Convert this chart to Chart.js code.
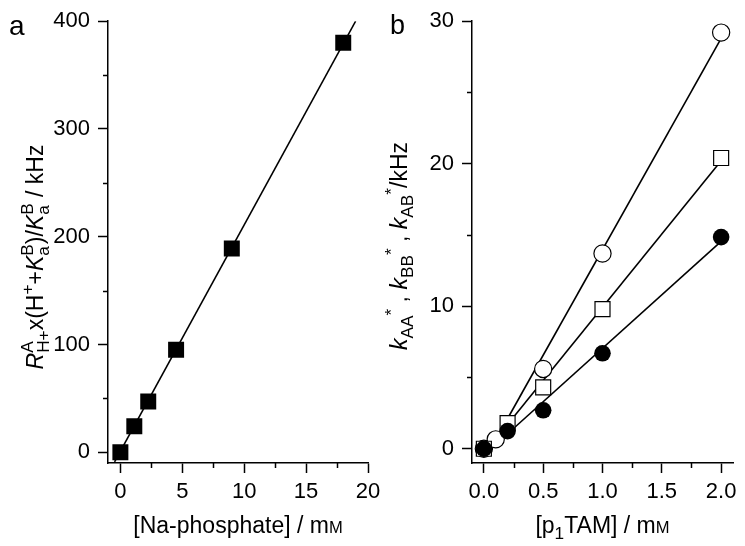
<!DOCTYPE html>
<html>
<head>
<meta charset="utf-8">
<script src="https://cdn.jsdelivr.net/npm/chart.js@4.4.1/dist/chart.umd.min.js"></script>
<style>
  body { margin: 0; background: #fff; }
  #wrap { position: relative; width: 745px; height: 546px; }
  canvas { position: absolute; left: 0; top: 0; }
</style>
</head>
<body>
<div id="wrap">
  <canvas id="chartA" width="745" height="546"></canvas>
  <canvas id="chartB" width="745" height="546"></canvas>
</div>
<script>
// panel a
const phosphate = [0, 1.125, 2.25, 4.5, 9, 18];
const rateA = [0, 24, 47, 95, 189, 380];
const fitAX = [-0.47, 19.0];
const fitAY = [-8.9, 400];
const ticksAX = [0, 5, 10, 15, 20];
const minorAX = [2.5, 7.5, 12.5, 17.5];
const ticksAY = [0, 100, 200, 300, 400];
const minorAY = [50, 150, 250, 350];

// panel b
const tamCircle = [0, 0.1, 0.5, 1.0, 2.0];
const kCircle = [0, 0.66, 5.6, 13.7, 29.2];
const tamSquare = [0, 0.2, 0.5, 1.0, 2.0];
const kSquare = [0, 1.8, 4.3, 9.8, 20.4];
const tamFilled = [0, 0.2, 0.5, 1.0, 2.0];
const kFilled = [0, 1.24, 2.7, 6.7, 14.85];
const fitCircleX = [0.057, 2.0], fitCircleY = [0, 28.8];
const fitSquareX = [0.034, 2.0], fitSquareY = [0, 20.2];
const fitFilledX = [0.06, 2.0], fitFilledY = [0, 14.55];
const ticksBX = [0, 0.5, 1.0, 1.5, 2.0];
const minorBX = [0.25, 0.75, 1.25, 1.75];
const ticksBY = [0, 10, 20, 30];
const minorBY = [5, 15, 25];

const FAM = '"Liberation Sans", Arial, sans-serif';
const TITLE = 23;
const SCRIPT = 0.75;

function pts(xs, ys) { return xs.map((x, i) => ({ x: x, y: ys[i] })); }
function font(sz, it) { return (it ? 'italic ' : '') + sz + 'px ' + FAM; }

// rich text with sub / superscripts
function segWidth(ctx, s, F) {
  const S = F * SCRIPT;
  if (s.stack) {
    ctx.font = font(S);
    return Math.max(ctx.measureText(s.stack[0]).width, ctx.measureText(s.stack[1]).width);
  }
  ctx.font = font((s.sup || s.sub) ? S : (s.small ? F * 0.72 : F), s.it);
  return ctx.measureText(s.t).width;
}
function richWidth(ctx, segs, F) {
  let w = 0;
  segs.forEach(s => { w += segWidth(ctx, s, F); });
  return w;
}
function drawRich(ctx, segs, F, x, y) {
  segs.forEach(s => {
    const w = segWidth(ctx, s, F);
    if (s.stack) {
      ctx.fillText(s.stack[0], x, y - F * 0.42);
      ctx.fillText(s.stack[1], x, y + F * 0.25);
    } else {
      const dy = s.sup ? -F * 0.45 : s.sub ? F * 0.25 : 0;
      ctx.fillText(s.t, x, y + dy);
    }
    x += w;
  });
}

function decor(cfg) {
  return {
    id: 'decor',
    afterDraw(chart) {
      const ctx = chart.ctx;
      const xs = chart.scales.x, ys = chart.scales.y;
      const area = chart.chartArea;
      ctx.save();
      ctx.strokeStyle = '#000';
      ctx.lineWidth = 1.5;
      ctx.beginPath();
      cfg.minorX.forEach(v => {
        const p = Math.round(xs.getPixelForValue(v)) + 0.5;
        ctx.moveTo(p, area.bottom);
        ctx.lineTo(p, area.bottom + 5);
      });
      cfg.minorY.forEach(v => {
        const p = Math.round(ys.getPixelForValue(v)) + 0.5;
        ctx.moveTo(area.left, p);
        ctx.lineTo(area.left - 5, p);
      });
      ctx.stroke();

      ctx.fillStyle = '#000';
      ctx.textBaseline = 'alphabetic';
      ctx.textAlign = 'left';
      // panel letter
      ctx.font = font(cfg.letterSize);
      ctx.fillText(cfg.letter, cfg.letterX, cfg.letterY);
      // x title
      const cx = (area.left + area.right) / 2;
      const wx = richWidth(ctx, cfg.xTitle, TITLE);
      drawRich(ctx, cfg.xTitle, TITLE, cx - wx / 2, cfg.xTitleY);
      // y title
      const wy = richWidth(ctx, cfg.yTitle, TITLE);
      ctx.translate(cfg.yTitleX, cfg.yTitleC);
      ctx.rotate(-Math.PI / 2);
      drawRich(ctx, cfg.yTitle, TITLE, -wy / 2, 0);
      ctx.restore();
    }
  };
}

function axis(min, max, ticks, fmt, width, height) {
  return {
    type: 'linear',
    min: min,
    max: max,
    afterBuildTicks: s => { s.ticks = ticks.map(v => ({ value: v })); },
    afterFit: s => {
      if (width !== null) s.width = width;
      if (height !== null) s.height = height;
    },
    grid: { drawOnChartArea: false, drawTicks: true, tickLength: 10, tickWidth: 1.5, tickColor: '#000' },
    border: { display: true, color: '#000', width: 1.5 },
    ticks: {
      color: '#000',
      font: { family: FAM, size: 22 },
      padding: width !== null ? 8 : 6,
      maxRotation: 0,
      autoSkip: false,
      callback: fmt
    }
  };
}

const base = {
  responsive: false,
  animation: false,
  events: [],
  plugins: { legend: { display: false }, tooltip: { enabled: false } }
};

new Chart(document.getElementById('chartA'), {
  type: 'scatter',
  data: {
    datasets: [
      {
        data: pts(phosphate, rateA),
        pointStyle: 'rect',
        pointRadius: 11.3,
        backgroundColor: '#000',
        borderWidth: 0,
        order: 0
      },
      {
        data: pts(fitAX, fitAY),
        showLine: true,
        pointRadius: 0,
        borderColor: '#000',
        borderWidth: 1.6,
        order: 1
      }
    ]
  },
  options: Object.assign({}, base, {
    layout: { padding: { left: 0, top: 21, right: 377, bottom: 0 } },
    scales: {
      x: axis(-1, 20, ticksAX, v => String(v), null, 83),
      y: axis(-10, 400, ticksAY, v => String(v), 108, null)
    }
  }),
  plugins: [decor({
    minorX: minorAX, minorY: minorAY,
    letter: 'a', letterSize: 28, letterX: 9, letterY: 35,
    xTitle: [{ t: '[Na-phosphate] / m' }, { t: 'M', small: 1 }],
    xTitleY: 533,
    yTitle: [
      { t: 'R', it: 1 }, { stack: ['A', 'H+'] }, { t: 'x(H' }, { t: '+', sup: 1 },
      { t: '+' }, { t: 'K', it: 1 }, { stack: ['B', 'a'] }, { t: ')/' },
      { t: 'K', it: 1 }, { stack: ['B', 'a'] }, { t: ' / kHz' }
    ],
    yTitleX: 43, yTitleC: 257
  })]
});

new Chart(document.getElementById('chartB'), {
  type: 'scatter',
  data: {
    datasets: [
      {
        data: pts(tamFilled, kFilled),
        pointStyle: 'circle',
        pointRadius: 8.3,
        backgroundColor: '#000',
        borderWidth: 0,
        order: 0
      },
      {
        data: pts(tamSquare, kSquare),
        pointStyle: 'rect',
        pointRadius: 10.6,
        backgroundColor: '#fff',
        borderColor: '#000',
        borderWidth: 1.2,
        order: 1
      },
      {
        data: pts(tamCircle, kCircle),
        pointStyle: 'circle',
        pointRadius: 8.6,
        backgroundColor: '#fff',
        borderColor: '#000',
        borderWidth: 1.2,
        order: 2
      },
      { data: pts(fitCircleX, fitCircleY), showLine: true, pointRadius: 0, borderColor: '#000', borderWidth: 1.6, order: 3 },
      { data: pts(fitSquareX, fitSquareY), showLine: true, pointRadius: 0, borderColor: '#000', borderWidth: 1.6, order: 3 },
      { data: pts(fitFilledX, fitFilledY), showLine: true, pointRadius: 0, borderColor: '#000', borderWidth: 1.6, order: 3 }
    ]
  },
  options: Object.assign({}, base, {
    layout: { padding: { left: 0, top: 21, right: 12, bottom: 0 } },
    scales: {
      x: axis(-0.1, 2.1, ticksBX, v => v.toFixed(1), null, 83),
      y: axis(-1, 30, ticksBY, v => String(v), 472, null)
    }
  }),
  plugins: [decor({
    minorX: minorBX, minorY: minorBY,
    letter: 'b', letterSize: 27, letterX: 390, letterY: 34,
    xTitle: [{ t: '[p' }, { t: '1', sub: 1 }, { t: 'TAM] / m' }, { t: 'M', small: 1 }],
    xTitleY: 533,
    yTitle: [
      { t: 'k', it: 1 }, { t: 'AA', sub: 1 }, { t: '*', sup: 1 }, { t: ' , ' },
      { t: 'k', it: 1 }, { t: 'BB', sub: 1 }, { t: '*', sup: 1 }, { t: ' , ' },
      { t: 'k', it: 1 }, { t: 'AB', sub: 1 }, { t: '*', sup: 1 }, { t: '/kHz' }
    ],
    yTitleX: 407, yTitleC: 246
  })]
});
</script>
</body>
</html>
